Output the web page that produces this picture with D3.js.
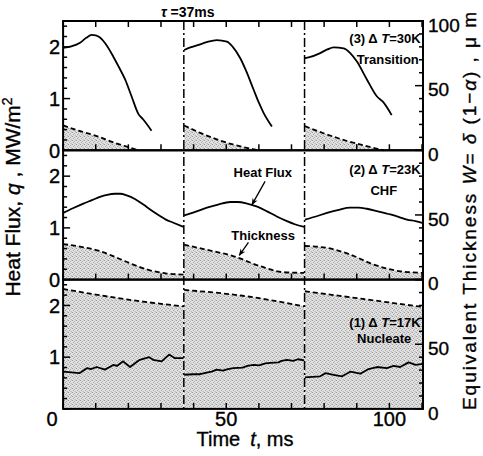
<!DOCTYPE html>
<html><head><meta charset="utf-8">
<script src="https://cdn.jsdelivr.net/npm/d3@7"></script>
<style>
body{margin:0;background:#fff}
svg{display:block}
text{font-family:"Liberation Sans",Arial,Helvetica,sans-serif;fill:#000}
.heavy{stroke:#000;stroke-width:0.35px}
</style>
</head><body>
<svg id="chart" width="483" height="456"></svg>
<script>
// ---------------- data ----------------
const timeDomain = [0, 110.3];
const timeTicks = d3.range(0, 111, 10);
const timeLabels = [0, 50, 100];
const qDomain = [0, 2.5];
const qMajor = [0, 1, 2];
const qMinor = d3.range(0, 2.5, 0.2);
const wDomain = [0, 100];
const wMajor = [0, 50, 100];
const wMinor = d3.range(0, 101, 10);
const cycleBoundaries = [37, 74];
const panelLabels = ["(3) Δ T=30K", "(2) Δ T=23K", "(1) Δ T=17K"];
const panelRegimes = ["Transition", "CHF", "Nucleate"];

// panel 3 : Transition (dT = 30 K)
const qTransition = [
  [[0,1.98],[2.5,2.01],[5.2,2.08],[7,2.17],[8.8,2.23],[10,2.22],[11.3,2.18],[13,2.06],[15.4,1.81],[17,1.62],[19,1.37],[21,1.04],[23.1,0.70],[24.5,0.60],[27.1,0.38]],
  [[37.1,1.94],[39,1.99],[42,2.05],[44,2.09],[47.1,2.13],[50.2,2.10],[52,2.00],[54.3,1.78],[56,1.55],[58.4,1.17],[60,0.92],[61.4,0.73],[64,0.46]],
  [[74.1,1.78],[75.5,1.80],[78.8,1.88],[81,1.95],[82.9,1.99],[86,1.97],[88,1.88],[90,1.72],[93.1,1.37],[96.2,1.04],[98,0.94],[100.7,0.68]]
];
const wTransition = [
  [[0,19.2],[5,15],[10.3,11],[15,6.5],[20.5,2],[23,0]],
  [[37.1,19.2],[42,13.5],[47.1,8.5],[52,4.5],[58.4,0.8],[60,0]],
  [[74.1,18.7],[80,13],[87,7.2],[93,3.2],[98.3,0]]
];

// panel 2 : CHF (dT = 23 K)
const qCHF = [
  [[0,1.29],[3,1.38],[6.2,1.47],[9,1.54],[11.3,1.60],[13.5,1.64],[15.9,1.66],[17.5,1.66],[19.5,1.63],[22,1.56],[24.6,1.45],[27,1.34],[29.7,1.23],[31.5,1.16],[33.8,1.10],[36.9,1.02]],
  [[37.1,1.24],[40.5,1.31],[44.1,1.39],[47.5,1.45],[51.2,1.50],[53.5,1.50],[56.4,1.47],[59.5,1.41],[62.5,1.32],[65.5,1.22],[68.6,1.13],[71,1.07],[73.9,1.02]],
  [[74.1,1.16],[77.5,1.22],[80.9,1.29],[84.5,1.35],[88,1.39],[90.5,1.39],[93.1,1.37],[96.5,1.32],[100.3,1.26],[103,1.21],[105.4,1.16],[108,1.13],[110.3,1.09]]
];
const wCHF = [
  [[0,27.5],[6.2,25],[11.3,22],[16.4,17],[21.5,11.6],[26.6,7.2],[31.7,4.7],[36.9,3.9]],
  [[37.1,27],[44.1,23],[52.3,18],[60.5,10.3],[67.6,5.7],[73.9,5.2]],
  [[74.1,26],[80.9,24.5],[88,19.4],[95.2,11.6],[103.4,6.4],[110.3,5.2]]
];

// panel 1 : Nucleate (dT = 17 K)
const qNucleate = [
  [[0,0.72],[5,0.69],[7.4,0.79],[8.5,0.77],[10.3,0.81],[12.8,0.76],[15.4,0.85],[16.5,0.83],[18.4,0.92],[20.5,0.81],[23.5,0.95],[26.4,1.00],[27.6,0.95],[30.2,0.92],[32.5,1.05],[34.3,0.98],[36.9,0.98]],
  [[37.1,0.66],[40,0.67],[42,0.67],[44,0.70],[45.5,0.72],[47.1,0.76],[49,0.74],[50.5,0.77],[52.2,0.79],[55,0.80],[56.5,0.83],[58.4,0.85],[60,0.84],[62,0.88],[63.5,0.89],[66,0.90],[67,0.93],[68.6,0.95],[70.5,0.93],[72,0.96],[73.9,0.94]],
  [[74.1,0.61],[78.8,0.63],[80.4,0.69],[82.9,0.66],[85.5,0.63],[88,0.72],[91.1,0.68],[93.6,0.77],[96.2,0.81],[99.2,0.79],[101.3,0.83],[103.3,0.81],[105.9,0.90],[108,0.85],[110.3,0.87]]
];
const wNucleate = [
  [[0,92.8],[10,88.4],[20,84.5],[36.9,79.3]],
  [[37.1,92],[55,87.5],[73.9,79.3]],
  [[74.1,91],[92,85],[110.3,78.8]]
];

const panelsQ = [qTransition, qCHF, qNucleate];
const panelsW = [wTransition, wCHF, wNucleate];

// ---------------- layout ----------------
const left = 63.1, right = 423;
const top0 = 21, panelH = 129.3;
const svg = d3.select("#chart");

const x = d3.scaleLinear().domain(timeDomain).range([left, right]);

// stipple pattern for the film thickness
const defs = svg.append("defs");
const pat = defs.append("pattern").attr("id","stip").attr("patternUnits","userSpaceOnUse")
  .attr("width",4).attr("height",4);
pat.append("rect").attr("width",4).attr("height",4).attr("fill","#e2e2e2");
[[0,0,"#9a9a9a"],[2,1,"#b0b0b0"],[1,2,"#a4a4a4"],[3,3,"#bcbcbc"],[2,3,"#d0d0d0"],[3,0,"#cccccc"]]
  .forEach(([px,py,c]) => pat.append("rect").attr("x",px).attr("y",py).attr("width",1).attr("height",1).attr("fill",c));

const mk = defs.append("marker").attr("id","arr").attr("viewBox","0 0 10 10")
  .attr("refX",9).attr("refY",5).attr("markerWidth",7).attr("markerHeight",7)
  .attr("markerUnits","userSpaceOnUse").attr("orient","auto");
mk.append("path").attr("d","M0,1 L10,5 L0,9 L3,5 Z").attr("fill","#000");

const panels = [];
for (let i = 0; i < 3; i++) {
  const t = top0 + i * panelH, b = t + panelH;
  panels.push({
    top: t, bottom: b,
    q: d3.scaleLinear().domain(qDomain).range([b, t]),
    w: d3.scaleLinear().domain(wDomain).range([b, t])
  });
}

panels.forEach((p, i) => {
  const g = svg.append("g");
  const area = d3.area().x(d => x(d[0])).y0(p.w(0)).y1(d => p.w(d[1])).curve(d3.curveMonotoneX);
  const wLine = d3.line().x(d => x(d[0])).y(d => p.w(d[1])).curve(d3.curveMonotoneX);
  const qLine = d3.line().x(d => x(d[0])).y(d => p.q(d[1]))
    .curve(i === 2 ? d3.curveLinear : d3.curveMonotoneX);
  panelsW[i].forEach(c => g.append("path").attr("d", area(c)).attr("fill","url(#stip)"));
  panelsW[i].forEach(c => g.append("path").attr("d", wLine(c)).attr("fill","none")
    .attr("stroke","#000").attr("stroke-width",1.8).attr("stroke-dasharray","5,3"));
  panelsQ[i].forEach(c => g.append("path").attr("d", qLine(c)).attr("fill","none")
    .attr("stroke","#000").attr("stroke-width",1.8).attr("stroke-linejoin","round"));
});

// cycle boundaries (tau = 37 ms)
cycleBoundaries.forEach(tb => {
  svg.append("line").attr("x1",x(tb)).attr("x2",x(tb))
    .attr("y1",panels[0].top).attr("y2",panels[2].bottom)
    .attr("stroke","#000").attr("stroke-width",1.5).attr("stroke-dasharray","9,3,2,3");
});

// frames & ticks
panels.forEach((p, i) => {
  const g = svg.append("g");
  g.append("rect").attr("x",left).attr("y",p.top).attr("width",right-left).attr("height",panelH)
    .attr("fill","none").attr("stroke","#000").attr("stroke-width",2);
  timeTicks.forEach(tv => {
    g.append("line").attr("x1",x(tv)).attr("x2",x(tv)).attr("y1",p.bottom).attr("y2",p.bottom-6)
      .attr("stroke","#000").attr("stroke-width",1.5);
    if (i === 0) g.append("line").attr("x1",x(tv)).attr("x2",x(tv)).attr("y1",p.top).attr("y2",p.top+6)
      .attr("stroke","#000").attr("stroke-width",1.5);
  });
  qMinor.forEach(v => {
    const major = qMajor.some(m => Math.abs(m - v) < 1e-6);
    g.append("line").attr("x1",left).attr("x2",left + (major ? 7 : 4))
      .attr("y1",p.q(v)).attr("y2",p.q(v)).attr("stroke","#000").attr("stroke-width",1.5);
  });
  wMinor.forEach(v => {
    const major = wMajor.includes(v);
    g.append("line").attr("x1",right).attr("x2",right - (major ? 8 : 4))
      .attr("y1",p.w(v)).attr("y2",p.w(v)).attr("stroke","#000").attr("stroke-width",1.5);
  });
  qMajor.forEach(v => {
    if (i === 2 && v === 0) return;
    g.append("text").attr("class","heavy").attr("x",60).attr("y",p.q(v)).attr("dy","0.36em").attr("text-anchor","end")
      .attr("font-size",20).text(v);
  });
  wMajor.forEach(v => {
    if (v === 100 && i > 0) return;
    g.append("text").attr("class","heavy").attr("x",428).attr("y",p.w(v) + 4).attr("dy","0.36em")
      .attr("font-size",19).text(v);
  });
  g.append("text").attr("x",x(109.6)).attr("y",p.top + [22,24,47][i]).attr("text-anchor","end")
    .attr("font-size",13).attr("font-weight","bold")
    .call(tx => {
      const parts = panelLabels[i].split("T");
      tx.append("tspan").text(parts[0]);
      tx.append("tspan").attr("font-style","italic").text("T");
      tx.append("tspan").text(parts[1]);
    });
  g.append("text").attr("x",x([99.5,98.3,98.4][i])).attr("y",p.top + [43,45,63][i]).attr("text-anchor","middle")
    .attr("font-size",13).attr("font-weight","bold").text(panelRegimes[i]);
});

timeLabels.forEach(v => {
  svg.append("text").attr("class","heavy").attr("x", x(v) - (v === 0 ? 11 : 0)).attr("y", 419).attr("dy","0.36em")
    .attr("text-anchor","middle").attr("font-size",20).text(v);
});

svg.append("text").attr("class","heavy").attr("x",245).attr("y",446).attr("text-anchor","middle").attr("font-size",20)
  .call(tx => {
    tx.append("tspan").text("Time");
    tx.append("tspan").attr("dx",10).attr("font-style","italic").text("t");
    tx.append("tspan").text(", ms");
  });

svg.append("text").attr("class","heavy").attr("transform","translate(20,197) rotate(-90)").attr("text-anchor","middle")
  .attr("font-size",21)
  .call(tx => {
    tx.append("tspan").text("Heat Flux, ");
    tx.append("tspan").attr("font-style","italic").text("q");
    tx.append("tspan").text(" , MW/m");
    tx.append("tspan").attr("font-size",14).attr("dy",-8).text("2");
  });

svg.append("text").attr("class","heavy").attr("transform","translate(476,410) rotate(-90)").attr("text-anchor","start")
  .attr("font-size",19).attr("textLength",398).attr("lengthAdjust","spacing")
  .call(tx => {
    tx.append("tspan").text("Equivalent Thickness ");
    tx.append("tspan").attr("font-style","italic").text("W");
    tx.append("tspan").text("= ");
    tx.append("tspan").attr("font-style","italic").text("δ");
    tx.append("tspan").text(" (1\u2212");
    tx.append("tspan").attr("font-style","italic").text("α");
    tx.append("tspan").text(") , μ m");
  });

svg.append("text").attr("x",x(38.2)).attr("y",17).attr("text-anchor","middle")
  .attr("font-size",14).attr("font-weight","bold")
  .call(tx => {
    tx.append("tspan").attr("font-style","italic").text("τ");
    tx.append("tspan").text(" =37ms");
  });

const pm = panels[1];
svg.append("text").attr("x",x(61.2)).attr("y",pm.q(2.08)).attr("dy","0.36em").attr("text-anchor","middle")
  .attr("font-size",13).attr("font-weight","bold").text("Heat Flux");
svg.append("line").attr("x1",x(61.9)).attr("y1",pm.q(1.90)).attr("x2",x(57.9)).attr("y2",pm.q(1.45))
  .attr("stroke","#000").attr("stroke-width",1.3).attr("marker-end","url(#arr)");
svg.append("text").attr("x",x(61.3)).attr("y",pm.q(0.86)).attr("dy","0.36em").attr("text-anchor","middle")
  .attr("font-size",13).attr("font-weight","bold").text("Thickness");
svg.append("line").attr("x1",x(56.8)).attr("y1",pm.q(0.72)).attr("x2",x(54.0)).attr("y2",pm.q(0.47))
  .attr("stroke","#000").attr("stroke-width",1.3).attr("marker-end","url(#arr)");
</script>
</body></html>
